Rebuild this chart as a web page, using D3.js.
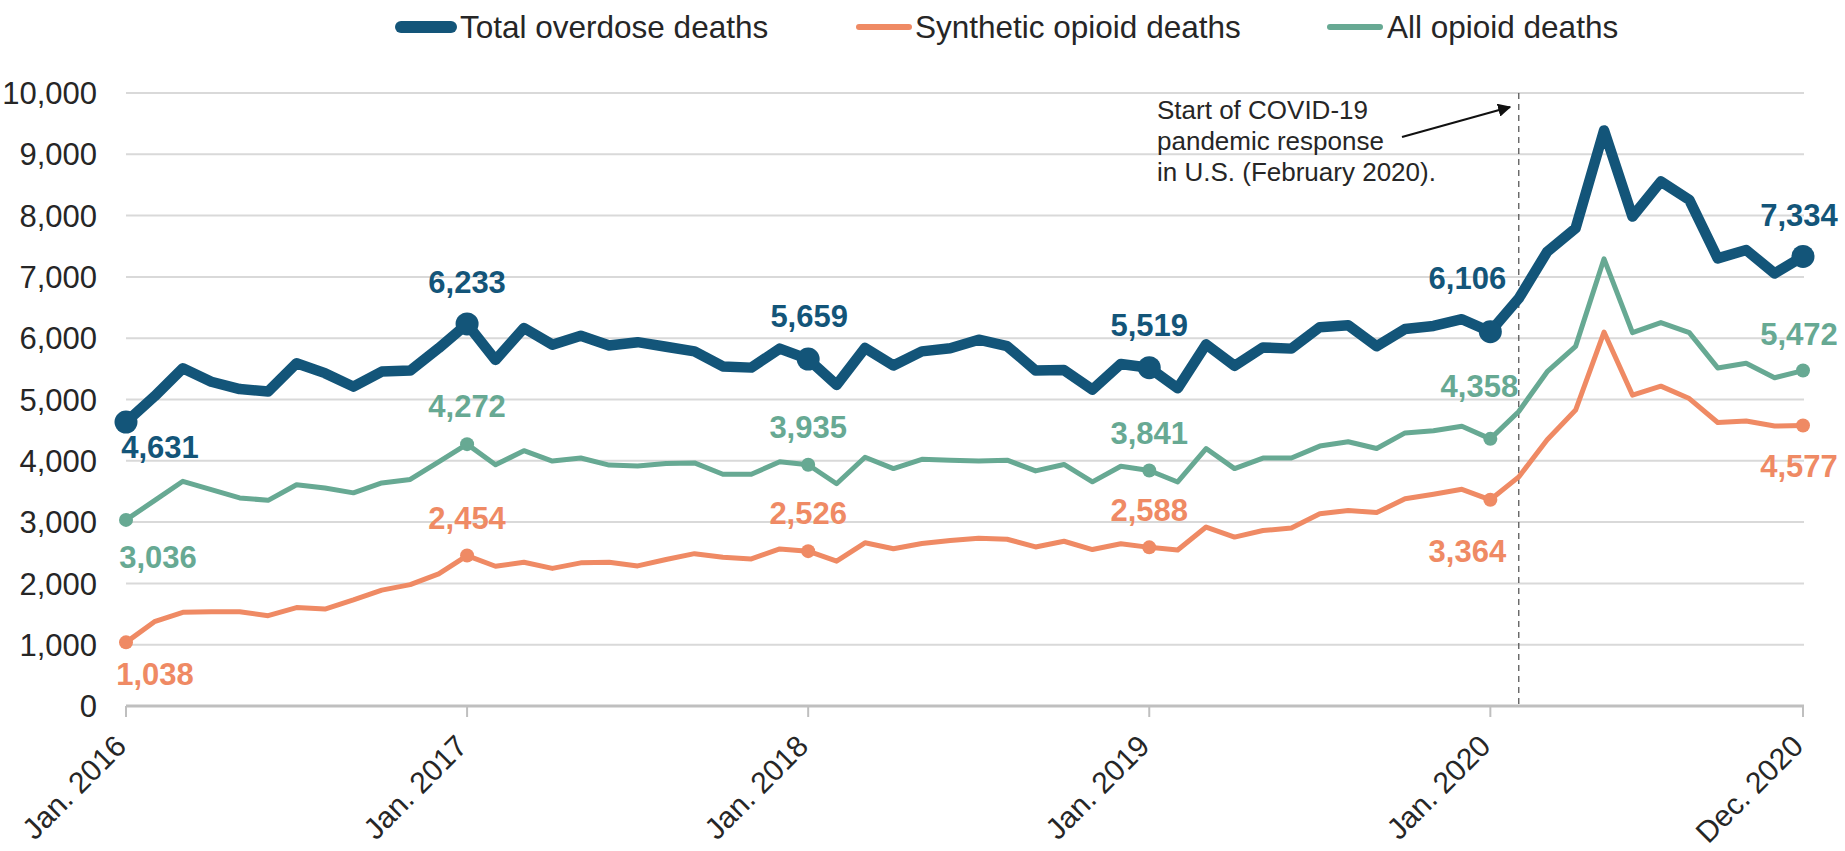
<!DOCTYPE html>
<html>
<head>
<meta charset="utf-8">
<script src="https://cdn.jsdelivr.net/npm/d3@7"></script>
<style>
  body { margin: 0; background: #fff; }
  text { font-family: "Liberation Sans", Arial, sans-serif; }
</style>
</head>
<body>
<div id="chart"></div>
<script>
// monthly counts, Jan. 2016 .. Dec. 2020
var totalDeaths = [
  4631, 5050, 5510, 5290, 5170, 5130, 5590, 5430, 5210, 5455, 5472, 5837,
  6233, 5646, 6165, 5895, 6040, 5880, 5935, 5860, 5785, 5540, 5520, 5830,
  5659, 5237, 5840, 5555, 5785, 5835, 5975, 5870, 5475, 5480, 5160, 5580,
  5519, 5183, 5900, 5550, 5850, 5830, 6180, 6210, 5870, 6150, 6200, 6310,
  6106, 6649, 7411, 7793, 9390, 7984, 8556, 8256, 7302, 7439, 7057, 7334
];
var synthDeaths = [
  1038, 1375, 1528, 1538, 1538, 1473, 1605, 1582, 1730, 1890, 1980, 2155,
  2454, 2280, 2346, 2245, 2335, 2346, 2285, 2390, 2485, 2425, 2400, 2562,
  2526, 2362, 2662, 2566, 2650, 2700, 2735, 2720, 2595, 2688, 2552, 2646,
  2588, 2545, 2919, 2755, 2862, 2902, 3135, 3188, 3155, 3382, 3455, 3535,
  3364, 3737, 4345, 4828, 6100, 5072, 5218, 5015, 4625, 4648, 4568, 4577
];
var opioidDeaths = [
  3036, 3350, 3666, 3530, 3395, 3355, 3610, 3557, 3477, 3639, 3695, 3983,
  4272, 3935, 4165, 3995, 4045, 3930, 3915, 3955, 3965, 3781, 3781, 3985,
  3935, 3625, 4058, 3873, 4024, 4010, 3995, 4010, 3835, 3940, 3657, 3912,
  3841, 3655, 4200, 3873, 4045, 4045, 4240, 4310, 4201, 4455, 4490, 4564,
  4358, 4805, 5453, 5867, 7295, 6090, 6255, 6090, 5515, 5592, 5355, 5472
];

var yTicks = [0, 1000, 2000, 3000, 4000, 5000, 6000, 7000, 8000, 9000, 10000];
var xTickIdx = [0, 12, 24, 36, 48, 59];
var xTickLabels = ["Jan. 2016", "Jan. 2017", "Jan. 2018", "Jan. 2019", "Jan. 2020", "Dec. 2020"];
var labelIdx = [0, 12, 24, 36, 48, 59];
var covidIdx = 49;
var noteLines = ["Start of COVID-19", "pandemic response", "in U.S. (February 2020)."];

var months = [];
for (var yr = 2016; yr <= 2020; yr++) {
  for (var m = 1; m <= 12; m++) months.push(yr + "-" + (m < 10 ? "0" : "") + m);
}

var width = 1845, height = 851;
var fontSize = 31;

var svg = d3.select("#chart").append("svg")
  .attr("width", width)
  .attr("height", height);

var x = d3.scalePoint().domain(months).range([126, 1803]);
var y = d3.scaleLinear().domain([0, 10000]).range([706, 93]);

// gridlines + y labels
svg.append("g").selectAll("line")
  .data(yTicks.filter(d => d > 0))
  .enter().append("line")
  .attr("x1", 126).attr("x2", 1804)
  .attr("y1", d => y(d)).attr("y2", d => y(d))
  .attr("stroke", "#d9d9d9").attr("stroke-width", 2);

svg.append("g").selectAll("text")
  .data(yTicks)
  .enter().append("text")
  .attr("x", 97)
  .attr("y", d => y(d))
  .attr("dy", "0.36em")
  .attr("text-anchor", "end")
  .attr("font-size", fontSize)
  .attr("fill", "#262626")
  .text(d => d3.format(",")(d));

// x axis
svg.append("line")
  .attr("x1", 126).attr("x2", 1804)
  .attr("y1", 706).attr("y2", 706)
  .attr("stroke", "#bfbfbf").attr("stroke-width", 3);

svg.append("g").selectAll("line")
  .data(xTickIdx)
  .enter().append("line")
  .attr("x1", d => x(months[d])).attr("x2", d => x(months[d]))
  .attr("y1", 706).attr("y2", 717)
  .attr("stroke", "#bfbfbf").attr("stroke-width", 2);

svg.append("g").selectAll("text")
  .data(xTickIdx)
  .enter().append("text")
  .attr("transform", d => `translate(${x(months[d]) + 2}, 748) rotate(-45)`)
  .attr("text-anchor", "end")
  .attr("font-size", 30)
  .attr("fill", "#262626")
  .text((d, i) => xTickLabels[i]);

// covid marker line
svg.append("line")
  .attr("x1", x(months[covidIdx])).attr("x2", x(months[covidIdx]))
  .attr("y1", y(10000)).attr("y2", 706)
  .attr("stroke", "#595959").attr("stroke-width", 1.3)
  .attr("stroke-dasharray", "6,5");

// series
var series = [
  { name: "Synthetic opioid deaths", values: synthDeaths, color: "#ef8a64", w: 5, r: 7,
    offs: [[29, 31], [0, -38], [0, -38], [0, -38], [-23, 51], [-4, 40]] },
  { name: "All opioid deaths", values: opioidDeaths, color: "#67a993", w: 5, r: 7,
    offs: [[32, 37], [0, -38], [0, -38], [0, -38], [-11, -53], [-4, -37]] },
  { name: "Total overdose deaths", values: totalDeaths, color: "#135579", w: 10.5, r: 11.5,
    offs: [[34, 25], [0, -42], [1, -43], [0, -43], [-23, -54], [-4, -42]] }
];

var line = d3.line()
  .x((d, i) => x(months[i]))
  .y(d => y(d));

series.forEach(function(s) {
  svg.append("path")
    .datum(s.values)
    .attr("d", line)
    .attr("fill", "none")
    .attr("stroke", s.color)
    .attr("stroke-width", s.w)
    .attr("stroke-linejoin", "round")
    .attr("stroke-linecap", "round");

  svg.append("g").selectAll("circle")
    .data(labelIdx)
    .enter().append("circle")
    .attr("cx", d => x(months[d]))
    .attr("cy", d => y(s.values[d]))
    .attr("r", s.r)
    .attr("fill", s.color);
});

series.forEach(function(s) {
  svg.append("g").selectAll("text")
    .data(labelIdx)
    .enter().append("text")
    .attr("x", (d, i) => x(months[d]) + s.offs[i][0])
    .attr("y", (d, i) => y(s.values[d]) + s.offs[i][1])
    .attr("dy", "0.36em")
    .attr("text-anchor", "middle")
    .attr("font-size", fontSize)
    .attr("font-weight", "bold")
    .attr("fill", s.color)
    .text(d => d3.format(",")(s.values[d]));
});

// annotation
var note = svg.append("text")
  .attr("x", 1157)
  .attr("font-size", 26)
  .attr("fill", "#262626");
note.selectAll("tspan")
  .data(noteLines)
  .enter().append("tspan")
  .attr("x", 1157)
  .attr("y", (d, i) => 110 + i * 31)
  .attr("dy", "0.36em")
  .text(d => d);

svg.append("defs").append("marker")
  .attr("id", "arrow")
  .attr("viewBox", "0 0 10 10")
  .attr("refX", 9).attr("refY", 5)
  .attr("markerWidth", 6).attr("markerHeight", 6)
  .attr("markerUnits", "strokeWidth")
  .attr("orient", "auto")
  .append("path")
  .attr("d", "M0,0 L10,5 L0,10 z")
  .attr("fill", "#111");

svg.append("line")
  .attr("x1", 1402).attr("y1", 137)
  .attr("x2", 1510).attr("y2", 107)
  .attr("stroke", "#111").attr("stroke-width", 2.2)
  .attr("marker-end", "url(#arrow)");

// legend
var legendItems = [series[2], series[0], series[1]];
var legendX = [401, 859, 1330];
var legendTextX = [59, 56, 57];
legendItems.forEach(function(s, i) {
  var g = svg.append("g").attr("transform", `translate(${legendX[i]}, 27)`);
  g.append("line")
    .attr("x1", 0).attr("x2", 50)
    .attr("stroke", s.color)
    .attr("stroke-width", s.w > 6 ? 12 : 6)
    .attr("stroke-linecap", "round");
  g.append("text")
    .attr("x", legendTextX[i])
    .attr("dy", "0.34em")
    .attr("font-size", 31.5)
    .attr("fill", "#262626")
    .text(s.name);
});
</script>
</body>
</html>
